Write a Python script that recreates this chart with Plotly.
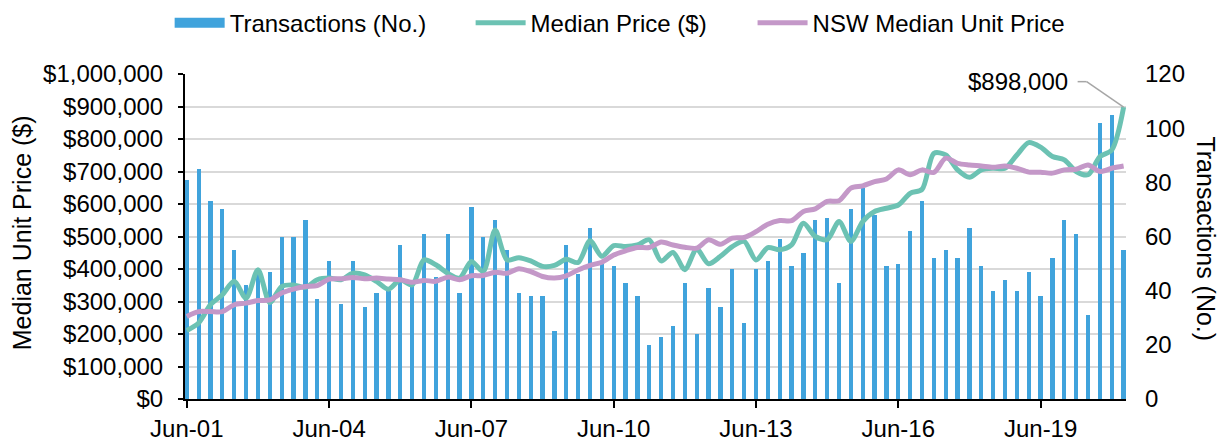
import plotly.graph_objects as go

# ---------------- data ----------------
months = ["Jun", "Sep", "Dec", "Mar"]
quarters = []
for i in range(80):
    m = months[i % 4]
    yr = 1 + (i + 1) // 4  # Jun-01, Sep-01, Dec-01, Mar-02 ...
    quarters.append(f"{m}-{yr:02d}")

tick_labels = ["Jun-01", "Jun-04", "Jun-07", "Jun-10", "Jun-13", "Jun-16", "Jun-19"]

transactions = [81, 85, 73, 70, 55, 42, 46, 47, 60, 60, 66, 37, 51, 35, 51, 34, 39, 40, 57, 44,
                61, 45, 61, 39, 71, 60, 66, 55, 39, 38, 38, 25, 57, 46, 63, 50, 49, 43, 38, 20,
                23, 27, 43, 24, 41, 34, 48, 28, 48, 51, 59, 49, 54, 66, 67, 43, 70, 78, 68, 49,
                50, 62, 73, 52, 55, 52, 63, 49, 40, 44, 40, 47, 38, 52, 66, 61, 31, 102, 105, 55]

median_price = [211000, 234000, 290000, 321000, 362000, 310000, 398000, 297000, 346000, 351000,
                343000, 367000, 372000, 367000, 387000, 382000, 362000, 338000, 367000, 351000,
                428000, 413000, 387000, 372000, 423000, 392000, 520000, 428000, 435000, 425000,
                408000, 411000, 430000, 420000, 487000, 439000, 472000, 469000, 474000, 490000,
                425000, 451000, 398000, 461000, 416000, 439000, 469000, 485000, 428000, 466000,
                459000, 474000, 541000, 500000, 490000, 546000, 485000, 546000, 577000, 587000,
                597000, 633000, 645000, 756000, 751000, 705000, 682000, 705000, 710000, 710000,
                751000, 789000, 775000, 746000, 736000, 700000, 690000, 746000, 766000, 898000]

nsw_median = [254000, 269000, 269000, 269000, 290000, 295000, 303000, 305000, 326000, 338000,
              346000, 349000, 369000, 370000, 374000, 370000, 372000, 369000, 367000, 359000,
              365000, 362000, 375000, 367000, 379000, 380000, 390000, 387000, 401000, 392000,
              377000, 372000, 379000, 397000, 411000, 421000, 443000, 456000, 466000, 466000,
              483000, 474000, 467000, 464000, 490000, 476000, 495000, 497000, 515000, 538000,
              549000, 549000, 577000, 585000, 608000, 610000, 649000, 656000, 669000, 677000,
              705000, 690000, 705000, 697000, 741000, 725000, 720000, 717000, 713000, 717000,
              710000, 698000, 698000, 695000, 705000, 707000, 720000, 700000, 710000, 717000]

# ---------------- style ----------------
FONT = "Arial, Liberation Sans, sans-serif"
BAR_C = "#40A3DC"
GREEN = "#6CC2B3"
PURPLE = "#C498C8"
GRID = "#D9D9D9"
TICK = 24

fig = go.Figure()
fig.add_trace(go.Bar(x=quarters, y=transactions, name="Transactions (No.)",
                     marker=dict(color=BAR_C, line=dict(width=0)), width=0.36,
                     yaxis="y", showlegend=False, legendgroup="tx"))
# legend proxy: wide blue rectangle like the reference's legend key
fig.add_trace(go.Scatter(x=[None], y=[None], name="Transactions (No.)", mode="lines",
                         line=dict(color=BAR_C, width=12), yaxis="y",
                         legendgroup="tx", hoverinfo="skip", legend="legend"))
fig.add_trace(go.Scatter(x=quarters, y=median_price, name="Median Price ($)", mode="lines",
                         line=dict(color=GREEN, width=5, shape="spline", smoothing=0.8),
                         yaxis="y2", legend="legend2"))
fig.add_trace(go.Scatter(x=quarters, y=nsw_median, name="NSW Median Unit Price", mode="lines",
                         line=dict(color=PURPLE, width=5, shape="spline", smoothing=0.8),
                         yaxis="y2", legend="legend3"))

last_x = quarters[-1]
last_y = median_price[-1]


def legend_at(xpos):
    return dict(orientation="h", xref="container", yref="container",
                x=xpos, xanchor="left", y=0.965, yanchor="middle",
                font=dict(size=24), itemwidth=50, bgcolor="rgba(0,0,0,0)")


# the page body has an 8px margin, so the figure is 8px smaller on each axis
fig.update_layout(
    width=1220, height=433,
    margin=dict(l=177, r=102, t=66, b=42, autoexpand=False),
    paper_bgcolor="white", plot_bgcolor="white",
    font=dict(family=FONT, size=TICK, color="#000000"),
    showlegend=True,
    legend=legend_at(0.1325),
    legend2=legend_at(0.3792),
    legend3=legend_at(0.6103),
    bargap=0,
    xaxis=dict(type="category", range=[-0.15, 79.2], tickmode="array",
               tickvals=tick_labels, ticktext=tick_labels, automargin=False,
               showline=True, linecolor="#000000", linewidth=2,
               ticks="outside", ticklen=7, tickwidth=2, tickcolor="#000000",
               showgrid=False, tickfont=dict(size=TICK)),
    yaxis=dict(side="right", range=[0, 120], tickmode="linear", tick0=0, dtick=20,
               showgrid=False, showline=False, zeroline=False, ticks="",
               automargin=False,
               ticklabelstandoff=18, tickfont=dict(size=TICK)),
    yaxis2=dict(side="left", overlaying="y", range=[0, 1000000], tickmode="linear",
                tick0=0, dtick=100000, tickformat="$,.0f", automargin=False,
                showgrid=True, gridcolor=GRID, gridwidth=1.5, zeroline=False,
                showline=True, linecolor="#000000", linewidth=2,
                ticks="outside", ticklen=5, tickwidth=1.5, tickcolor="#000000",
                ticklabelstandoff=10, tickfont=dict(size=TICK)),
    annotations=[
        dict(text="Median Unit Price ($)", xref="paper", yref="paper", x=0, y=0.51,
             xshift=-163, textangle=-90, showarrow=False, font=dict(size=25),
             xanchor="center", yanchor="middle"),
        dict(text="Transactions (No.)", xref="paper", yref="paper", x=1, y=0.494,
             xshift=80, textangle=90, showarrow=False, font=dict(size=25),
             xanchor="center", yanchor="middle"),
        dict(text="$" + f"{last_y:,}", xref="x", yref="y2", x=last_x, y=last_y,
             xanchor="right", yanchor="middle", xshift=-54, yshift=25.5,
             showarrow=False, font=dict(size=TICK)),
    ],
    shapes=[
        dict(type="line", xref="x", yref="y2", xsizemode="pixel", ysizemode="pixel",
             xanchor=last_x, yanchor=last_y, x0=-46, x1=-37, y0=25.5, y1=25.5,
             line=dict(color="#A6A6A6", width=1.5)),
        dict(type="line", xref="x", yref="y2", xsizemode="pixel", ysizemode="pixel",
             xanchor=last_x, yanchor=last_y, x0=-37, x1=0, y0=25.5, y1=0,
             line=dict(color="#A6A6A6", width=1.5)),
    ],
)

fig.write_html("out.html")
